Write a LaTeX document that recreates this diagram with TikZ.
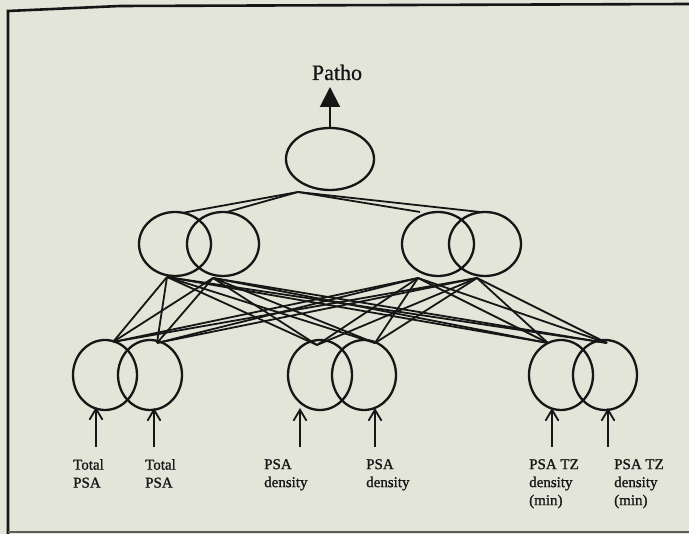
\documentclass[tikz,border=0pt]{standalone}
\usepackage{fontspec}
\setmainfont{Liberation Serif}
\newfontfamily\lblfont[FakeBold=1.2]{Liberation Serif}
\newfontfamily\pathofont[FakeBold=0.6]{Liberation Serif}
\usetikzlibrary{shapes.geometric,arrows.meta}
\definecolor{paper}{RGB}{226,229,216}
\definecolor{ink}{RGB}{22,22,22}
\begin{document}
\begin{tikzpicture}[x=1pt,y=-1pt,
  neuron/.style={ellipse,draw=ink,line width=2.3pt,inner sep=0pt},
  topn/.style={neuron,minimum width=88pt,minimum height=62pt},
  midn/.style={neuron,minimum width=72pt,minimum height=64pt},
  botn/.style={neuron,minimum width=64pt,minimum height=70pt},
  wire/.style={draw=ink,line width=1.8pt},
  inarrow/.style={draw=ink,line width=2pt,-{Straight Barb[length=11pt,width=13pt,line width=1.8pt]}},
  lbl/.style={anchor=north west,inner sep=0pt,align=left,font=\lblfont\fontsize{15}{18}\selectfont,text=ink}]
\fill[paper] (0,0) rectangle (689,534);
\useasboundingbox (0,0) rectangle (689,534);
% frame
\draw[ink,line width=2.6pt,line join=miter] (8,534) -- (8,11) -- (120,6) -- (689,4);
\draw[ink!70,line width=2pt] (8,532.5) -- (689,532.5);
% nodes
\node[topn] (t) at (330,159) {};
\node[midn] (m1) at (175,244) {};
\node[midn] (m2) at (223,244) {};
\node[midn] (m3) at (438,244) {};
\node[midn] (m4) at (485,244) {};
\node[botn] (b1) at (105,375) {};
\node[botn] (b2) at (150,375) {};
\node[botn] (b3) at (320,375) {};
\node[botn] (b4) at (364,375) {};
\node[botn] (b5) at (561,375) {};
\node[botn] (b6) at (605,375) {};
% output
\node[anchor=base,inner sep=0pt,font=\pathofont\fontsize{22}{24}\selectfont,text=ink] (patho) at (337,80) {Patho};
\coordinate (ptip) at (330,87);
\draw[draw=ink,line width=2pt,-{Triangle[length=20pt,width=20pt]}] (t.north) -- (ptip);
% apex to hidden layer 2
\coordinate (ap) at (298,192);
\coordinate (mt1) at (182,213);
\coordinate (mt2) at (227,212);
\coordinate (mt3) at (420,212);
\coordinate (mt4) at (480,212);
\foreach \m in {1,2,3,4} \draw[wire] (ap) -- (mt\m);
% hidden layer 2 to hidden layer 1
\coordinate (mb1) at (167,277);
\coordinate (mb2) at (213,278);
\coordinate (mb3) at (418,278);
\coordinate (mb4) at (477,278);
\coordinate (bt1) at (113,342);
\coordinate (bt2) at (157,343);
\coordinate (bt3) at (317,345);
\coordinate (bt4) at (375,343);
\coordinate (bt5) at (548,343);
\coordinate (bt6) at (607,343);
\foreach \m in {1,2,3,4} \foreach \b in {1,...,6} \draw[wire] (mb\m) -- (bt\b);
% inputs
\node[lbl] (l1) at (73,459) {Total\\PSA};
\node[lbl] (l2) at (145,459) {Total\\PSA};
\node[lbl] (l3) at (264,459) {PSA\\density};
\node[lbl] (l4) at (366,459) {PSA\\density};
\node[lbl] (l5) at (529,459) {PSA TZ\\density\\(min)};
\node[lbl] (l6) at (614,459) {PSA TZ\\density\\(min)};
\coordinate (a1) at (96,447);  \coordinate (e1) at (96,407);
\coordinate (a2) at (154,447); \coordinate (e2) at (154,408);
\coordinate (a3) at (300,447); \coordinate (e3) at (300,408);
\coordinate (a4) at (375,447); \coordinate (e4) at (375,408);
\coordinate (a5) at (552,447); \coordinate (e5) at (552,408);
\coordinate (a6) at (608,447); \coordinate (e6) at (608,408);
\foreach \i in {1,...,6} \draw[inarrow] (a\i) -- (e\i);
\end{tikzpicture}
\end{document}
